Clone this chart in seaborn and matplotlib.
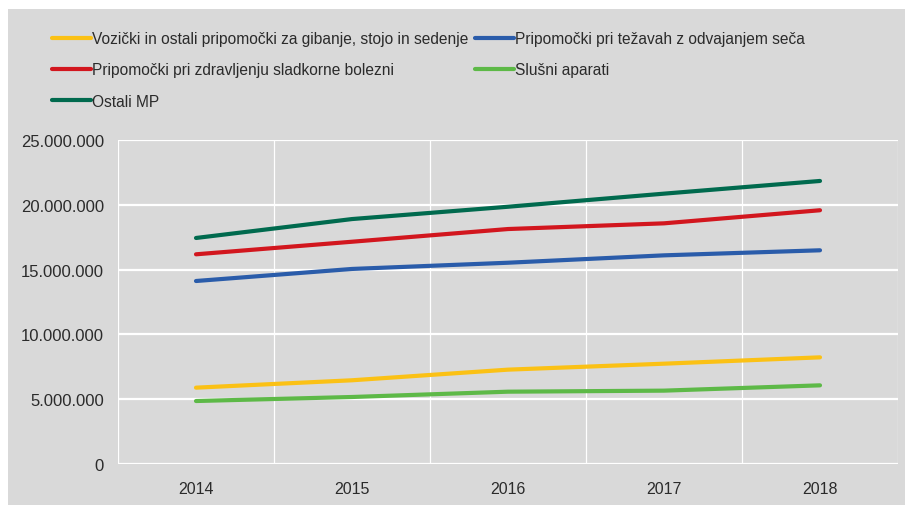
import matplotlib
matplotlib.use("Agg")
import matplotlib.pyplot as plt
import matplotlib.ticker as mticker
from matplotlib.patches import Rectangle
from matplotlib.lines import Line2D
import pandas as pd
import seaborn as sns

years = ["2014", "2015", "2016", "2017", "2018"]
series_names = [
    "Vozički in ostali pripomočki za gibanje, stojo in sedenje",
    "Pripomočki pri težavah z odvajanjem seča",
    "Pripomočki pri zdravljenju sladkorne bolezni",
    "Slušni aparati",
    "Ostali MP",
]
vozicki = [5_890_000, 6_460_000, 7_280_000, 7_740_000, 8_230_000]
odvajanje = [14_120_000, 15_050_000, 15_530_000, 16_100_000, 16_490_000]
sladkorna = [16_180_000, 17_150_000, 18_130_000, 18_570_000, 19_580_000]
slusni = [4_860_000, 5_170_000, 5_580_000, 5_660_000, 6_070_000]
ostali = [17_440_000, 18_900_000, 19_850_000, 20_860_000, 21_840_000]
colors = ["#FBC115", "#2A5CAA", "#D2161E", "#5DB947", "#006A4E"]

values = [vozicki, odvajanje, sladkorna, slusni, ostali]
df = pd.DataFrame(
    [(y, name, v) for name, vals in zip(series_names, values) for y, v in zip(years, vals)],
    columns=["Leto", "Skupina", "Vrednost"],
)

sns.set_style("white")
plt.rcParams["font.family"] = ["Liberation Sans", "DejaVu Sans"]
text_color = "#2b2b2b"
bg = "#D9D9D9"

fig = plt.figure(figsize=(9.05, 5.06), dpi=100)
fig.patch.set_facecolor("white")
fig.patches.append(Rectangle((8 / 905, 0), 1, 1 - 10 / 506, transform=fig.transFigure,
                             facecolor=bg, edgecolor="none", zorder=-10))

ax = fig.add_axes([118 / 905, 1 - 465 / 506, 780 / 905, 324 / 506])
ax.set_facecolor(bg)

sns.lineplot(data=df, x="Leto", y="Vrednost", hue="Skupina", hue_order=series_names,
             palette=colors, linewidth=3.0, ax=ax, sort=False, legend=False,
             solid_capstyle="round")

ax.set_xlim(-0.5, 4.5)
ax.set_ylim(0, 25_000_000)
ax.yaxis.set_major_locator(mticker.MultipleLocator(5_000_000))
ax.yaxis.set_major_formatter(mticker.FuncFormatter(lambda v, p: f"{int(v):,}".replace(",", ".")))
ax.set_xticks(range(len(years)))
ax.set_xticklabels(years)
ax.xaxis.set_minor_locator(mticker.FixedLocator([i + 0.5 for i in range(-1, len(years))]))

ax.grid(True, axis="y", which="major", color="white", linewidth=1.6)
ax.grid(True, axis="x", which="minor", color="white", linewidth=0.9)
ax.grid(False, axis="x", which="major")
for side in ["top", "right", "left", "bottom"]:
    ax.spines[side].set_visible(False)
ax.tick_params(axis="both", which="both", length=0, labelsize=12, colors=text_color)
ax.tick_params(axis="x", labelsize=11.5, pad=12)
ax.tick_params(axis="y", pad=10)
ax.set_xlabel("")
ax.set_ylabel("")

handles = [Line2D([], [], color=c, linewidth=3.0, solid_capstyle="round") for c in colors]
order = [0, 2, 4, 1, 3]
fig.legend([handles[i] for i in order], [series_names[i] for i in order],
           loc="upper left", bbox_to_anchor=(38 / 905, 1 - 18 / 506), ncol=2,
           frameon=False, fontsize=11.2, handlelength=2.5, handletextpad=0.1,
           columnspacing=0.4, labelspacing=1.05, labelcolor=text_color)

fig.savefig("out.png", dpi=100)
